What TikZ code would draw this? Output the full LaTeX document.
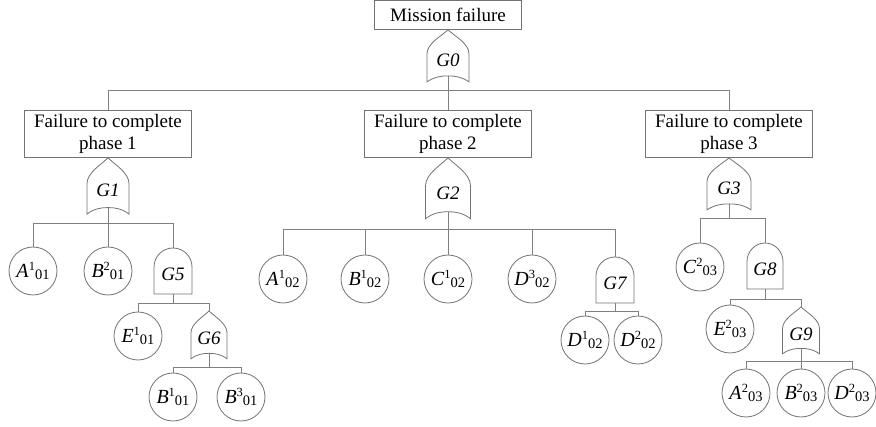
\documentclass[tikz,border=0pt]{standalone}
\usepackage{fontspec}
\setmainfont{Liberation Serif}
\newcommand\evt[3]{\textit{#1}\raisebox{7pt}{\fontsize{12.5}{12.5}\selectfont #2}\raisebox{-1.5pt}{\fontsize{14.5}{14.5}\selectfont #3}}
\tikzset{
  line/.style={draw=black!50, line width=0.8pt},
  gate/.style={draw=black!55, line width=0.8pt, fill=white},
  box/.style={draw=black!55, line width=0.8pt, fill=white, align=center, inner sep=0pt,
              font=\fontsize{19}{21.5}\selectfont},
  leaf/.style={circle, draw=black!55, line width=0.8pt, fill=white, minimum size=48pt, inner sep=0pt,
              font=\fontsize{20}{22}\selectfont},
  gatelabel/.style={inner sep=0pt, font=\fontsize{19}{21}\selectfont\itshape},
  orgate/.pic={
    \draw[gate] (0,0) .. controls (-8,7) and (-21,14) .. (-21,24) -- (-21,52)
      .. controls (-14,47) and (-7,46) .. (0,46) .. controls (7,46) and (14,47) .. (21,52)
      -- (21,24) .. controls (21,14) and (8,7) .. (0,0) -- cycle;
    \coordinate (-in) at (0,0);
    \coordinate (-out) at (0,46);
    \node[gatelabel] (-lab) at (0,30) {#1};
  },
  andgate/.pic={
    \draw[gate] (-19,46) -- (-19,19) arc[start angle=180, end angle=360, radius=19] -- (19,46) -- cycle;
    \coordinate (-in) at (0,0);
    \coordinate (-out) at (0,46);
    \node[gatelabel] (-lab) at (0,26) {#1};
  }
}
\begin{document}
\begin{tikzpicture}[x=1pt, y=-1pt]
\useasboundingbox (0,0) rectangle (876,427);

% top event
\node[box, minimum width=147pt, minimum height=29pt] (M) at (448,15) {Mission failure};
\pic (G0) at (M.south) {orgate=G0};
\coordinate (b0) at (448,90);

% phase boxes
\node[box, minimum width=167pt, minimum height=47pt] (P1) at (108,134) {Failure to complete\\phase 1};
\node[box, minimum width=167pt, minimum height=47pt] (P2) at (448,134) {Failure to complete\\phase 2};
\node[box, minimum width=167pt, minimum height=47pt] (P3) at (729,134) {Failure to complete\\phase 3};

\draw[line] (G0-out) -- (b0);
\draw[line] (b0) -| (P1.north);
\draw[line] (b0) -- (P2.north);
\draw[line] (b0) -| (P3.north);

% phase 1
\pic[yscale=1.08] (G1) at (P1.south) {orgate=G1};
\coordinate (b1) at (108,223);
\node[leaf] (A101) at (33,271) {\evt{A}{1}{01}};
\node[leaf] (B201) at (108,271) {\evt{B}{2}{01}};
\pic (G5) at (173,248) {andgate=G5};
\draw[line] (G1-out) -- (b1);
\draw[line] (b1) -| (A101.north);
\draw[line] (b1) -- (B201.north);
\draw[line] (b1) -| (G5-in);

\coordinate (b5) at (173,303);
\node[leaf] (E101) at (138,336) {\evt{E}{1}{01}};
\pic[xscale=0.86, yscale=0.92] (G6) at (209,311) {orgate=G6};
\draw[line] (G5-out) -- (b5);
\draw[line] (b5) -| (E101.north);
\draw[line] (b5) -| (G6-in);

\coordinate (b6) at (209,367);
\node[leaf] (B101) at (173,397) {\evt{B}{1}{01}};
\node[leaf] (B301) at (241,397) {\evt{B}{3}{01}};
\draw[line] (G6-out) -- (b6);
\draw[line] (b6) -| (B101.north);
\draw[line] (b6) -| (B301.north);

% phase 2
\pic[xscale=1.07, yscale=1.17] (G2) at (P2.south) {orgate=G2};
\coordinate (b2) at (448,229);
\node[leaf] (A102) at (283,279) {\evt{A}{1}{02}};
\node[leaf] (B102) at (365,279) {\evt{B}{1}{02}};
\node[leaf] (C102) at (448,279) {\evt{C}{1}{02}};
\node[leaf] (D302) at (532,279) {\evt{D}{3}{02}};
\pic (G7) at (615,257) {andgate=G7};
\draw[line] (G2-out) -- (b2);
\draw[line] (b2) -| (A102.north);
\draw[line] (b2) -| (B102.north);
\draw[line] (b2) -- (C102.north);
\draw[line] (b2) -| (D302.north);
\draw[line] (b2) -| (G7-in);

\coordinate (b7) at (615,311);
\node[leaf] (D102) at (585,340) {\evt{D}{1}{02}};
\node[leaf] (D202) at (638,340) {\evt{D}{2}{02}};
\draw[line] (G7-out) -- (b7);
\draw[line] (b7) -| (D102.north);
\draw[line] (b7) -| (D202.north);

% phase 3
\pic[xscale=1.05] (G3) at (P3.south) {orgate=G3};
\coordinate (b3) at (729,218);
\node[leaf] (C203) at (700,267) {\evt{C}{2}{03}};
\pic[xscale=0.95] (G8) at (765,243) {andgate=G8};
\draw[line] (G3-out) -- (b3);
\draw[line] (b3) -| (C203.north);
\draw[line] (b3) -| (G8-in);

\coordinate (b8) at (765,299);
\node[leaf] (E203) at (730,329) {\evt{E}{2}{03}};
\pic[xscale=0.88, yscale=0.9] (G9) at (801,307) {orgate=G9};
\draw[line] (G8-out) -- (b8);
\draw[line] (b8) -| (E203.north);
\draw[line] (b8) -| (G9-in);

\coordinate (b9) at (801,361);
\node[leaf] (A203) at (746,393) {\evt{A}{2}{03}};
\node[leaf] (B203) at (801,393) {\evt{B}{2}{03}};
\node[leaf] (D203) at (852,393) {\evt{D}{2}{03}};
\draw[line] (G9-out) -- (b9);
\draw[line] (b9) -| (A203.north);
\draw[line] (b9) -- (B203.north);
\draw[line] (b9) -| (D203.north);
\end{tikzpicture}
\end{document}
